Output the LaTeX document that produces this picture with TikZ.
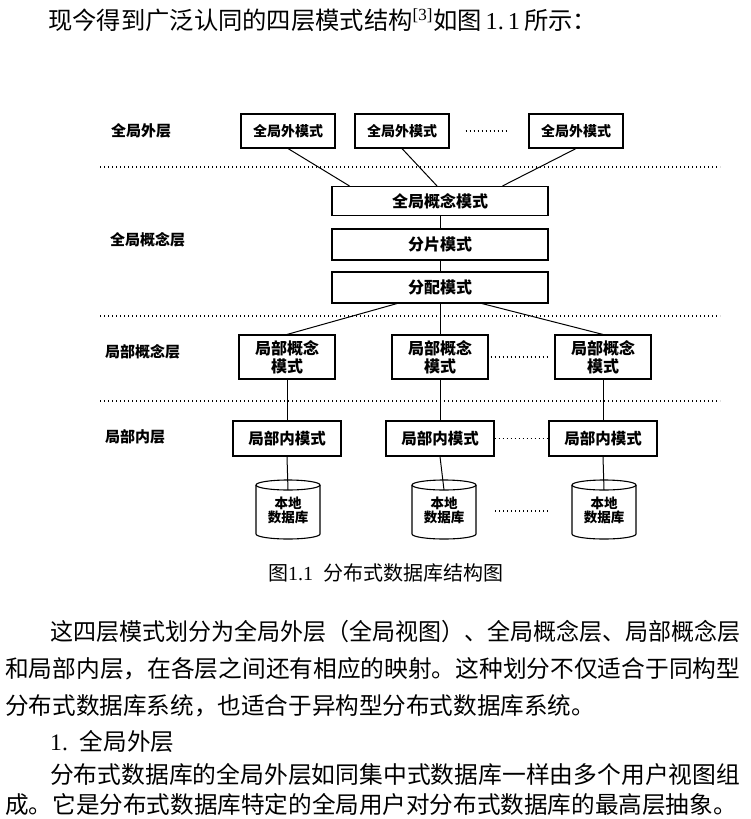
\documentclass[tikz,border=0pt]{standalone}
\usepackage{fontspec}
\usepackage{graphicx}
\setmainfont{Liberation Serif}
\newfontfamily\cjk{Noto Sans CJK SC}
\usetikzlibrary{calc}
\tikzset{
  boxbase/.style={draw, line width=1.1pt, inner sep=0pt, align=center},
  extbox/.style={boxbase, minimum width=94pt, minimum height=34pt, font=\cjk\bfseries\fontsize{14pt}{16pt}\selectfont},
  midbox/.style={boxbase, minimum width=216pt, minimum height=30pt, font=\cjk\bfseries\fontsize{16pt}{18pt}\selectfont},
  lcbox/.style={boxbase, minimum width=96pt, minimum height=44pt, font=\cjk\bfseries\fontsize{16pt}{18pt}\selectfont},
  libox/.style={boxbase, minimum width=108pt, minimum height=35pt, font=\cjk\bfseries\fontsize{15.5pt}{17pt}\selectfont},
  lab/.style={anchor=west, inner sep=0pt, font=\cjk\bfseries\fontsize{15pt}{17pt}\selectfont},
  dbtext/.style={inner sep=0pt, align=center, font=\cjk\bfseries\fontsize{13.5pt}{14pt}\selectfont},
  cyl/.style={line width=1.1pt},
  conn/.style={line width=1pt},
  sepline/.style={line width=1.1pt, dash pattern=on 1.4pt off 2.6pt},
  dotsline/.style={line width=1.1pt, dash pattern=on 1.4pt off 2.6pt},
  body/.style={anchor=west, inner sep=0pt, font=\cjk\fontsize{23.6pt}{28pt}\selectfont},
}
\begin{document}
\begin{tikzpicture}[x=1pt,y=-1pt]
\useasboundingbox[fill=white] (0,0) rectangle (751,819);

% top sentence
\node[body, font=\cjk\fontsize{24.3pt}{28pt}\selectfont] (top) at (48,20)
  {现今得到广泛认同的四层模式结构\textsuperscript{\rmfamily[3]}如图\,{\rmfamily 1.\,1}\,所示：};

% layer labels
\node[lab] (l1) at (111,131) {全局外层};
\node[lab] (l2) at (110,240) {全局概念层};
\node[lab] (l3) at (105,352) {局部概念层};
\node[lab] (l4) at (105,437) {局部内层};

% separators
\draw[sepline] (100,167) -- (720,167);
\draw[sepline] (100,316) -- (720,316);
\draw[sepline] (100,401) -- (720,401);

% global external schemas
\node[extbox] (e1) at (288,131) {全局外模式};
\node[extbox] (e2) at (402,131) {全局外模式};
\node[extbox] (e3) at (576,131) {全局外模式};
\draw[dotsline] ([xshift=16pt]e2.east) -- ([xshift=-19pt]e3.west);

% global conceptual layer
\node[midbox, minimum height=29pt] (gc) at (440,201) {全局概念模式};
\node[midbox, minimum height=31pt] (fp) at (440,244.5) {分片模式};
\node[midbox, minimum height=31pt] (fa) at (440,287.5) {分配模式};

% local conceptual
\node[lcbox] (lc1) at (287,357) {局部概念\\模式};
\node[lcbox] (lc2) at (440,357) {局部概念\\模式};
\node[lcbox] (lc3) at (603,357) {局部概念\\模式};
\draw[dotsline] ([xshift=2pt]lc2.east) -- ([xshift=-5pt]lc3.west);

% local internal
\node[libox] (li1) at (287,438.5) {局部内模式};
\node[libox] (li2) at (440,438.5) {局部内模式};
\node[libox] (li3) at (603,438.5) {局部内模式};
\draw[dotsline] (li2.east) -- (li3.west);

% databases
\foreach \n/\cx in {1/288,2/444,3/604} {
  \draw[cyl] (\cx,485) ellipse [x radius=32, y radius=5];
  \draw[cyl] (\cx-32,485) -- (\cx-32,534) arc[start angle=180, end angle=0, x radius=32, y radius=5] -- (\cx+32,485);
  \node[dbtext] (db\n) at (\cx,510) {本地\\数据库};
  \coordinate (t\n) at (\cx,490);
}
\draw[dotsline] ($(db2)+(51,1)$) -- ($(db3)+(-54,1)$);

% connectors
\draw[conn] (e1.south) -- ([xshift=18pt]gc.north west);
\draw[conn] (e2.south) -- ([xshift=-3pt]gc.north);
\draw[conn] (e3.south) -- ([xshift=-46pt]gc.north east);
\draw[conn] (gc.south) -- (fp.north);
\draw[conn] (fp.south) -- (fa.north);
\draw[conn] ([xshift=-43pt]fa.south) -- (lc1.north);
\draw[conn] (fa.south) -- (lc2.north);
\draw[conn] ([xshift=42pt]fa.south) -- (lc3.north);
\foreach \i in {1,2,3} {
  \draw[conn] (lc\i.south) -- (li\i.north);
  \draw[conn] (li\i.south) -- (t\i);
}

% caption
\node[anchor=west, inner sep=0pt, font=\cjk\fontsize{20pt}{24pt}\selectfont] (cap) at (268,573)
  {图{\rmfamily 1.1}\hspace{10pt}分布式数据库结构图};

% body text
\node[body] (p1) at (50,632) {\resizebox{690pt}{\height}{这四层模式划分为全局外层（全局视图）、全局概念层、局部概念层}};
\node[body] (p2) at (5,669) {\resizebox{735pt}{\height}{和局部内层，在各层之间还有相应的映射。这种划分不仅适合于同构型}};
\node[body] (p3) at (5,706) {分布式数据库系统，也适合于异构型分布式数据库系统。};
\node[body] (p4) at (50,741) {{\rmfamily 1.}\hspace{12pt}全局外层};
\node[body] (p5) at (50,774) {\resizebox{690pt}{\height}{分布式数据库的全局外层如同集中式数据库一样由多个用户视图组}};
\node[body] (p6) at (5,804) {成。它是分布式数据库特定的全局用户对分布式数据库的最高层抽象。};
\end{tikzpicture}
\end{document}
